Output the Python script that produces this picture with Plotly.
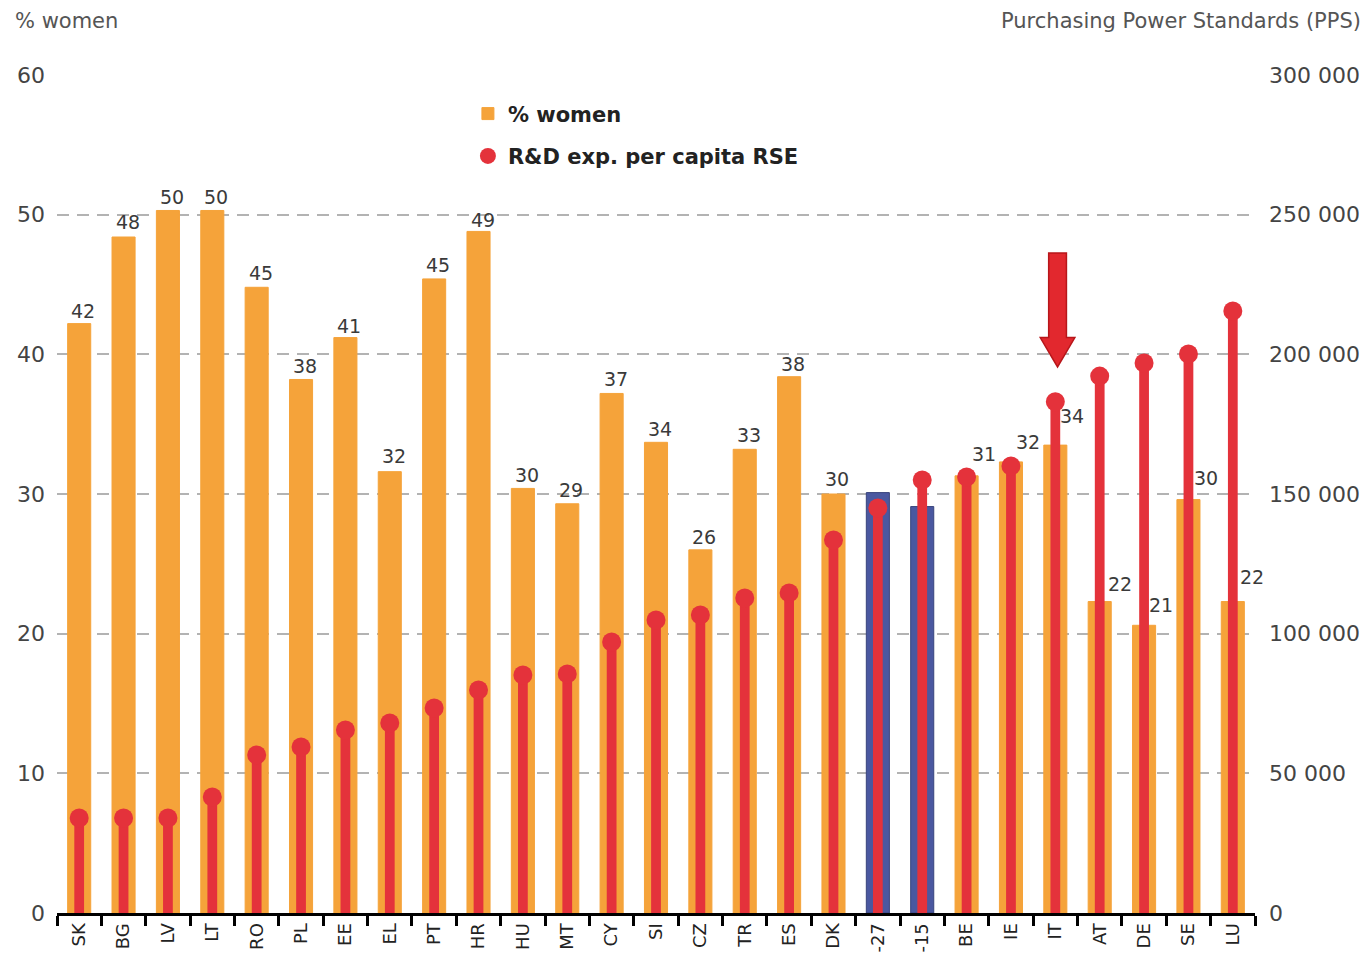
"""Share of women researchers vs R&D expenditure per researcher, by country."""

import plotly.graph_objects as go

countries = [
    "SK", "BG", "LV", "LT", "RO", "PL", "EE", "EL", "PT", "HR", "HU", "MT", "CY",
    "SI", "CZ", "TR", "ES", "DK", "-27", "-15", "BE", "IE", "IT", "AT", "DE",
    "SE", "LU",
]
women_pct = [
    42.2, 48.4, 50.3, 50.3, 44.8, 38.2, 41.2, 31.6, 45.4, 48.8, 30.4, 29.3, 37.2,
    33.7, 26.0, 33.2, 38.4, 30.0, 30.1, 29.1, 31.3, 32.3, 33.5, 22.3, 20.6,
    29.6, 22.3,
]
women_labels = [
    42, 48, 50, 50, 45, 38, 41, 32, 45, 49, 30, 29, 37, 34, 26, 33, 38, 30, 30,
    29, 31, 32, 34, 22, 21, 30, 22,
]
rd_per_capita = [
    34000, 34000, 34000, 41500, 56600, 59400, 65500, 68000, 73400, 79800, 85200,
    85600, 97000, 104900, 106700, 112800, 114600, 133500, 145000, 155000,
    156100, 160000, 183000, 192200, 196900, 200100, 215500,
]
eu_aggregates = ["-27", "-15"]
highlight = "IT"

ORANGE = "#f5a33a"
BLUE = "#4a58a0"
RED = "#e4323b"
FONT = "DejaVu Sans"

# label offsets in pixels (right, up) relative to bar top
label_dx = [4] * 18 + [5, 21, 17, 17, 17, 20, 17, 18, 19]
label_dy = [
    13, 15, 13, 13, 14, 13, 12, 16, 14, 11, 13, 14, 14, 13, 13, 14, 13, 15, 12,
    16, 22, 20, 29, 18, 20, 22, 25,
]


def _bar_colors() -> list[str]:
    return [BLUE if c in eu_aggregates else ORANGE for c in countries]


def _bar_outlines() -> list[str]:
    return ["#39447c" if c in eu_aggregates else ORANGE for c in countries]


def _arrow_path(center: float) -> str:
    # block arrow pointing down at the highlighted country (data units)
    pts = [
        (center - 0.2, 47.25), (center + 0.2, 47.25), (center + 0.2, 41.2),
        (center + 0.39, 41.2), (center, 39.1), (center - 0.39, 41.2),
        (center - 0.2, 41.2),
    ]
    return "M " + " L ".join(f"{x},{y}" for x, y in pts) + " Z"


fig = go.Figure()

fig.add_trace(
    go.Bar(
        x=countries,
        y=women_pct,
        name="% women",
        legendgroup="women",
        width=0.52,
        marker={
            "color": _bar_colors(),
            "line": {"width": 1, "color": _bar_outlines()},
        },
        hoverinfo="skip",
    )
)
fig.add_trace(
    go.Bar(
        x=countries,
        y=rd_per_capita,
        yaxis="y2",
        width=0.22,
        marker={"color": RED, "line": {"width": 0}},
        showlegend=False,
        hoverinfo="skip",
    )
)
fig.add_trace(
    go.Scatter(
        x=countries,
        y=rd_per_capita,
        yaxis="y2",
        mode="markers",
        name="R&D exp. per capita RSE",
        legendgroup="rd",
        marker={"color": RED, "size": 19},
    )
)

for i, country in enumerate(countries):
    fig.add_annotation(
        x=country,
        y=women_pct[i],
        text=str(women_labels[i]),
        showarrow=False,
        xshift=label_dx[i],
        yshift=label_dy[i],
        yanchor="middle",
        font={"family": FONT, "size": 19, "color": "#3a3a3a"},
    )

fig.add_shape(
    type="path",
    path=_arrow_path(countries.index(highlight) + 0.05),
    xref="x",
    yref="y",
    fillcolor="#e2282e",
    line={"color": "#b8161a", "width": 1.5},
    layer="above",
)

fig.add_annotation(
    x=-0.037, y=1.064, xref="paper", yref="paper", text="% women",
    showarrow=False, xanchor="left", yanchor="middle",
    font={"family": FONT, "size": 21, "color": "#555"},
)
fig.add_annotation(
    x=1.0905, y=1.064, xref="paper", yref="paper",
    text="Purchasing Power Standards (PPS)", showarrow=False,
    xanchor="right", yanchor="middle",
    font={"family": FONT, "size": 21, "color": "#555"},
)

# the page adds an 8px body margin, so the plot area is moved up/left by 8px
fig.update_layout(
    width=1368,
    height=954,
    margin={"l": 49, "r": 121, "t": 67, "b": 49, "autoexpand": False},
    paper_bgcolor="white",
    plot_bgcolor="white",
    barmode="overlay",
    separators=". ",
    font={"family": FONT, "color": "#333"},
    legend={
        "x": 0.343, "y": 0.978, "xanchor": "left", "yanchor": "top",
        "traceorder": "grouped", "tracegroupgap": 12,
        "font": {"family": FONT, "size": 21, "color": "#222", "weight": "bold"},
        "bgcolor": "rgba(0,0,0,0)",
    },
    xaxis={
        "type": "category",
        "automargin": False,
        "tickson": "boundaries",
        "ticks": "outside",
        "ticklen": 10,
        "tickwidth": 3,
        "tickcolor": "black",
        "showline": True,
        "linecolor": "black",
        "linewidth": 3,
        "tickangle": -90,
        "tickfont": {"family": FONT, "size": 18, "color": "#222"},
        "showgrid": False,
        "range": [-0.5, len(countries) - 0.5],
    },
    yaxis={
        "automargin": False,
        "range": [0, 60],
        "dtick": 10,
        "showgrid": True,
        "gridcolor": "#b3b3b3",
        "gridwidth": 1.5,
        "griddash": "12px,8px",
        "zeroline": False,
        "tickfont": {"family": FONT, "size": 22, "color": "#444"},
        "ticklabelstandoff": 11,
    },
    yaxis2={
        "automargin": False,
        "range": [0, 300000],
        "dtick": 50000,
        "tickformat": ",d",
        "overlaying": "y",
        "side": "right",
        "showgrid": False,
        "zeroline": False,
        "tickfont": {"family": FONT, "size": 22, "color": "#444"},
        "ticklabelstandoff": 13,
    },
)

fig.write_html("out.html")
